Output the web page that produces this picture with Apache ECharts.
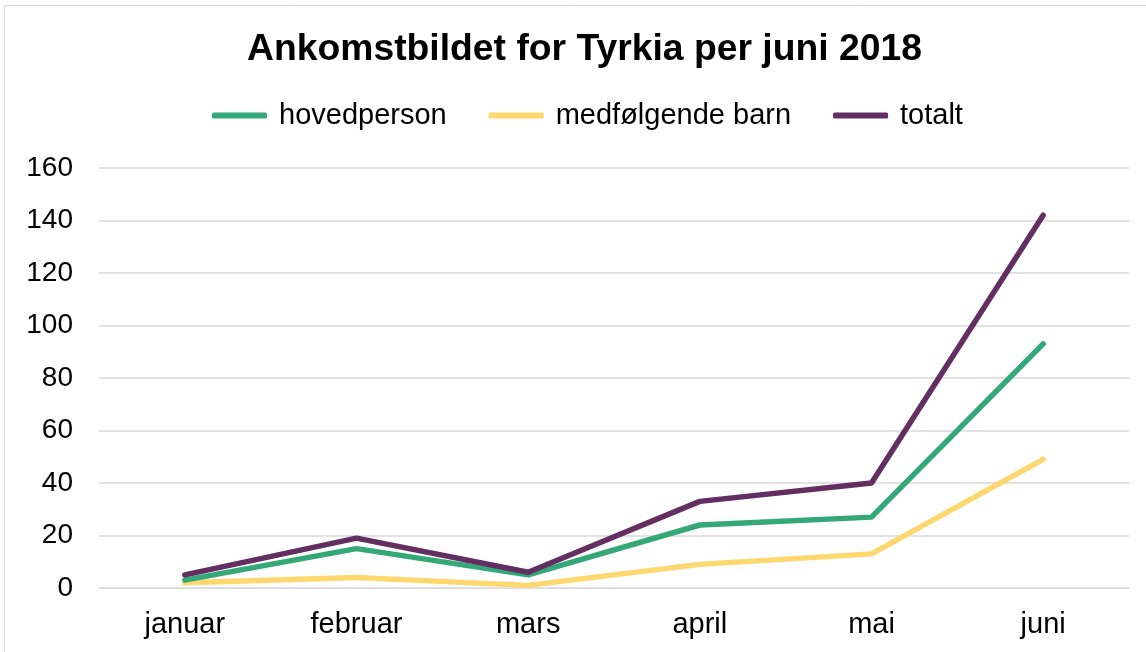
<!DOCTYPE html>
<html>
<head>
<meta charset="utf-8">
<script src="https://cdn.jsdelivr.net/npm/echarts@6/dist/echarts.min.js"></script>
<style>
html,body{margin:0;padding:0;background:#fff;}
#c{width:1146px;height:652px;}
</style>
</head>
<body>
<div id="c"></div>
<script>
const categories = ['januar','februar','mars','april','mai','juni'];
const hovedperson = [3, 15, 5, 24, 27, 93];
const medfolgende = [2, 4, 1, 9, 13, 49];
const totalt = [5, 19, 6, 33, 40, 142];
const seriesNames = ['hovedperson','medfølgende barn','totalt'];
const titleText = 'Ankomstbildet for Tyrkia per juni 2018';

const chart = echarts.init(document.getElementById('c'));
const font = 'Liberation Sans, Arial, sans-serif';
const colors = ['#34a878','#ffd76f','#632e62'];
chart.setOption({
  animation:false,
  color: colors,
  graphic:[{type:'rect',shape:{x:4.5,y:5.5,width:1160,height:700},style:{fill:'none',stroke:'#d9d9d9',lineWidth:1},silent:true}],
  title:{text:titleText,left:247,top:31,padding:0,textStyle:{fontFamily:font,fontSize:37.3,fontWeight:'bold',color:'#000'}},
  legend:{top:101,left:212,itemWidth:55,itemHeight:6,itemGap:42,icon:'roundRect',padding:0,
    textStyle:{fontFamily:font,fontSize:29,color:'#000',padding:[0,0,0,7]},
    data:seriesNames},
  grid:{left:99,right:17,top:168,bottom:64,containLabel:false},
  xAxis:{type:'category',data:categories,boundaryGap:true,
    axisLine:{show:true,lineStyle:{color:'#d9d9d9',width:1}},axisTick:{show:false},
    axisLabel:{fontFamily:font,fontSize:29,color:'#000',margin:22}},
  yAxis:{type:'value',min:0,max:160,interval:20,
    axisLine:{show:false},axisTick:{show:false},
    splitLine:{lineStyle:{color:'#d9d9d9',width:1.5}},
    axisLabel:{fontFamily:font,fontSize:28,color:'#000',margin:26}},
  series:[
    {name:seriesNames[0],type:'line',data:hovedperson,symbol:'none',lineStyle:{width:5.5,cap:'round',join:'round'}},
    {name:seriesNames[1],type:'line',data:medfolgende,symbol:'none',lineStyle:{width:5.5,cap:'round',join:'round'},z:1},
    {name:seriesNames[2],type:'line',data:totalt,symbol:'none',lineStyle:{width:5.5,cap:'round',join:'round'}}
  ]
});
</script>
</body>
</html>
